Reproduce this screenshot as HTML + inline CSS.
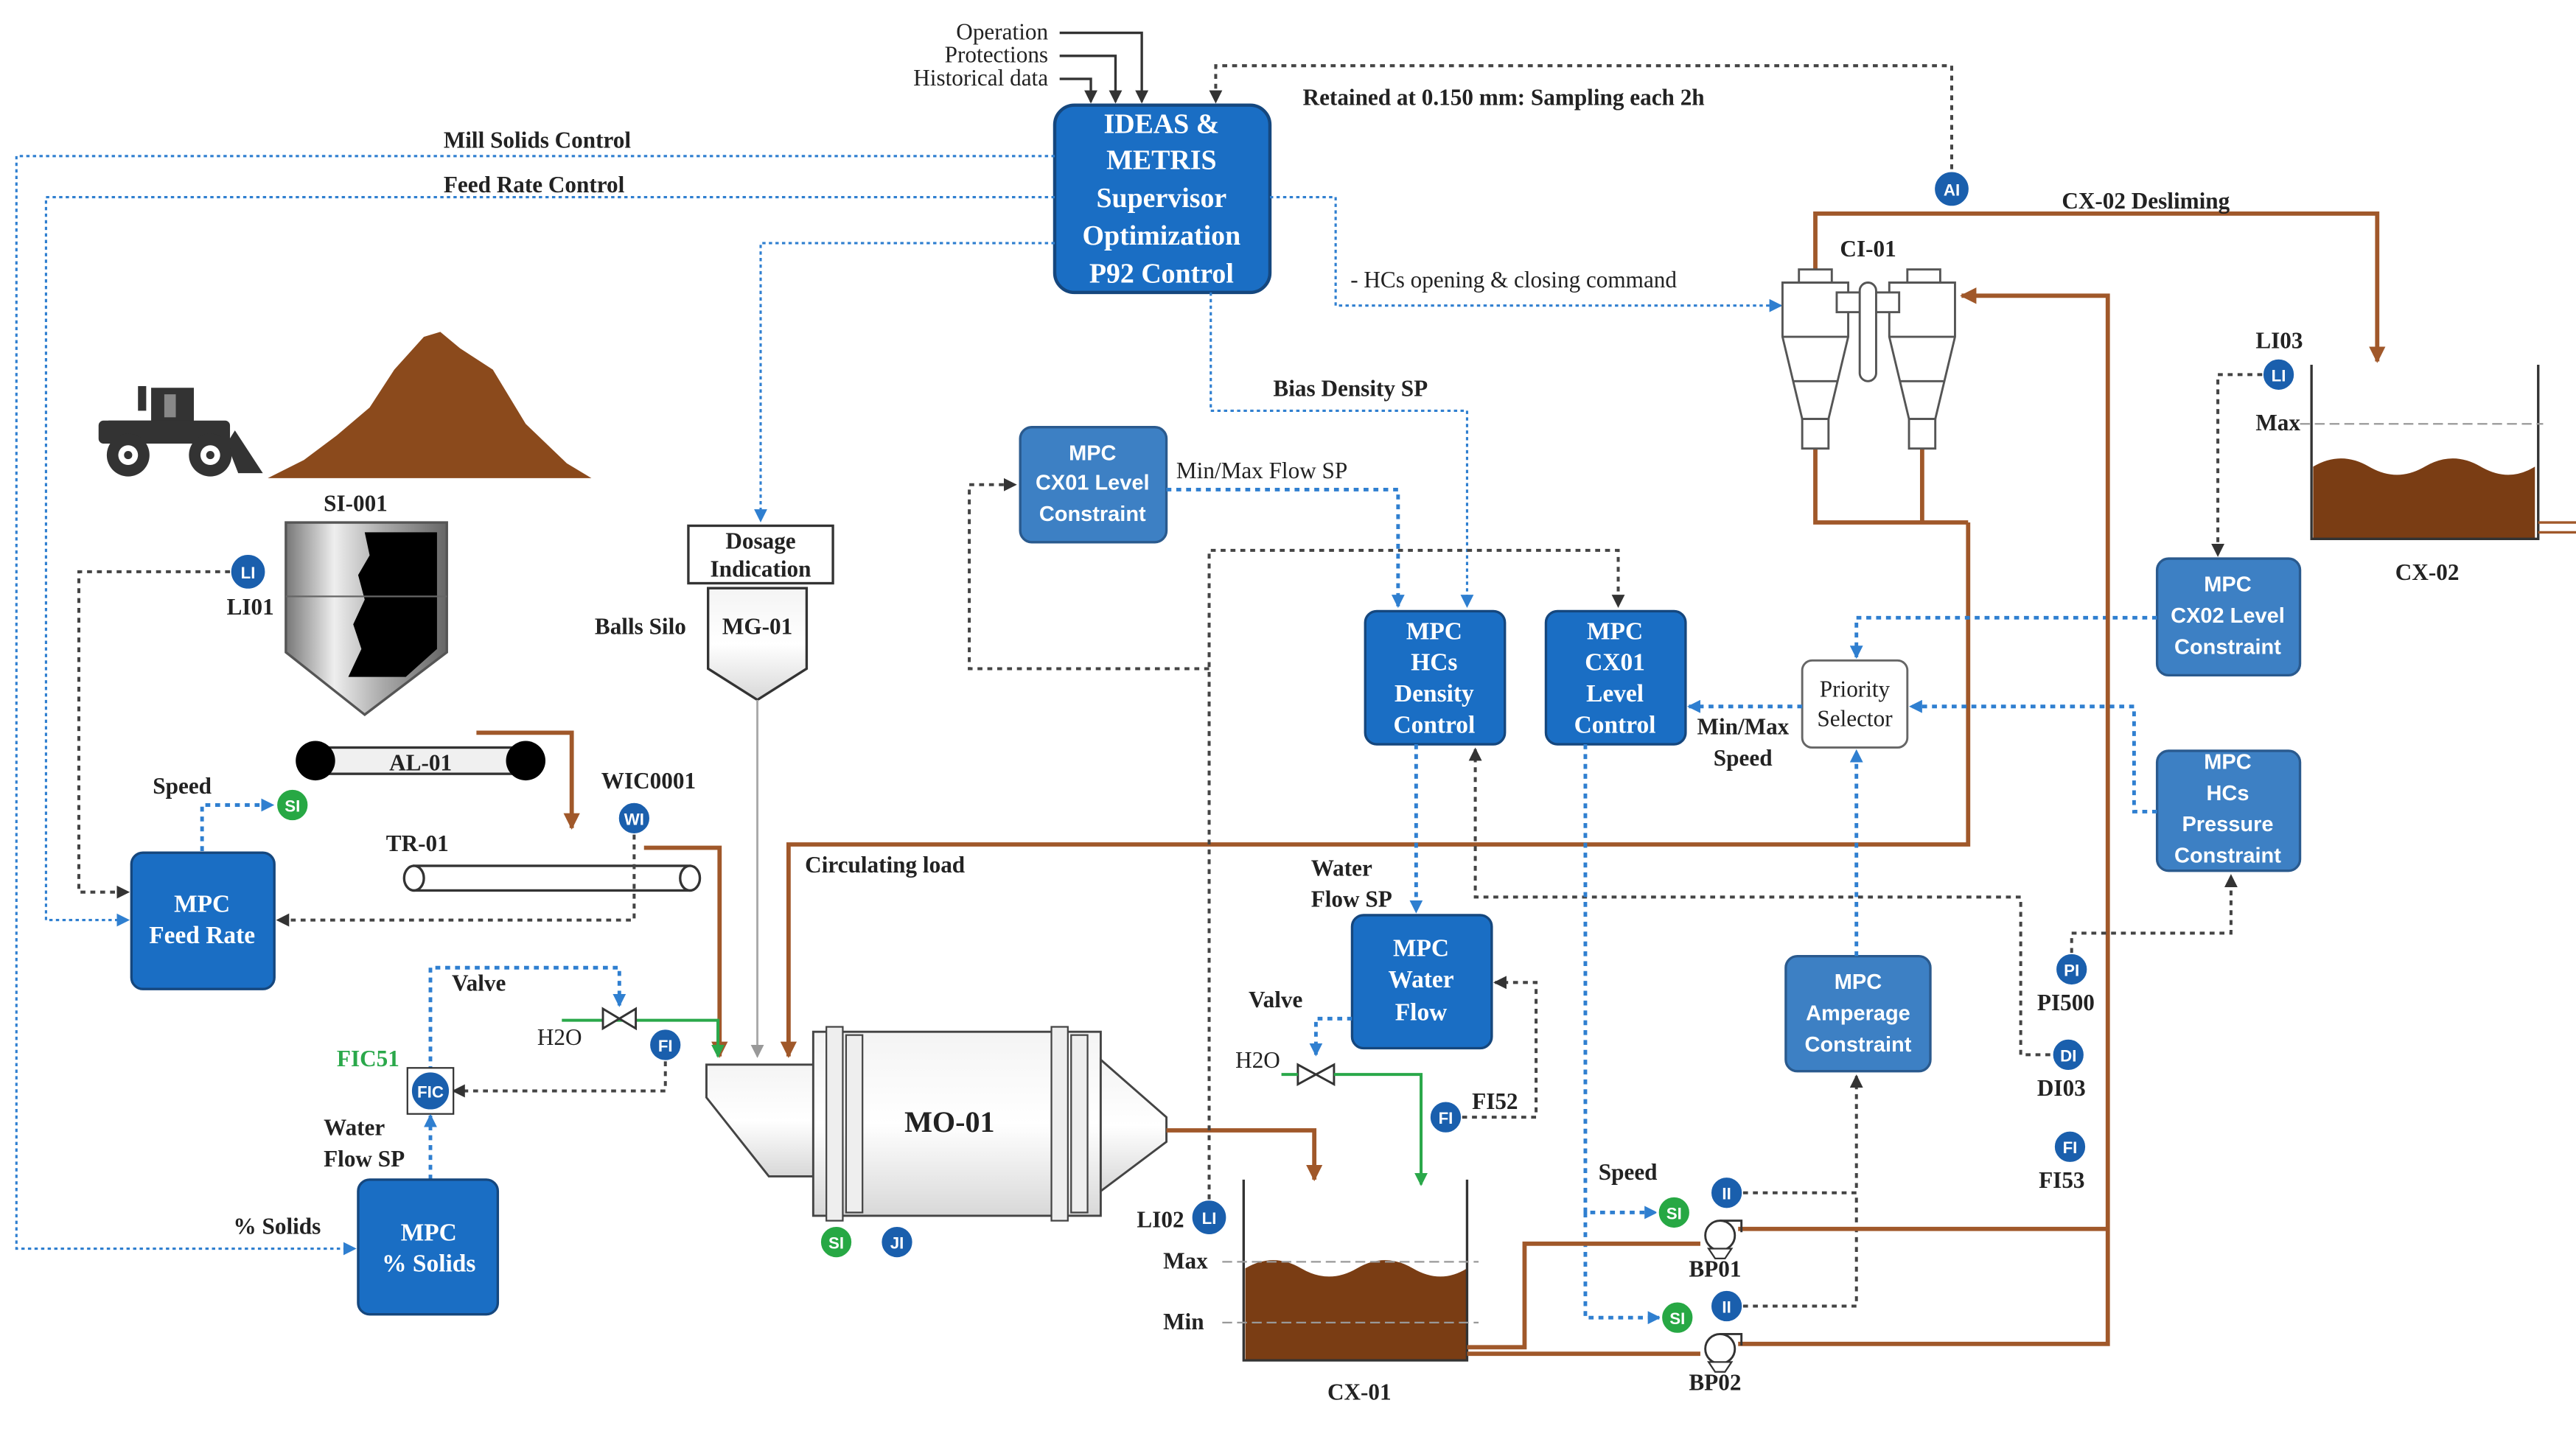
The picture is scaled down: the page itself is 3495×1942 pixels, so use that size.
<!DOCTYPE html>
<html><head><meta charset="utf-8"><style>
html,body{margin:0;padding:0;background:#fff}
svg{display:block}
.l{font-family:"Liberation Serif",serif;font-weight:bold;font-size:14px;fill:#222}
.bt{font-family:"Liberation Serif",serif;font-weight:bold;font-size:15px;fill:#fff;text-anchor:middle}
.st{font-family:"Liberation Sans",sans-serif;font-weight:bold;font-size:13px;fill:#fff;text-anchor:middle}
.it{font-family:"Liberation Sans",sans-serif;font-weight:bold;font-size:10px;fill:#fff;text-anchor:middle}
.bd{fill:none;stroke:#2f7fd0;stroke-width:1.4;stroke-dasharray:2 2}
.bd2{fill:none;stroke:#2f7fd0;stroke-width:2.2;stroke-dasharray:3 3}
.kd{fill:none;stroke:#444;stroke-width:1.8;stroke-dasharray:3 3}
.br{fill:none;stroke:#a0582a;stroke-width:2.6}
.gr{fill:none;stroke:#2aa84a;stroke-width:1.8}
</style></head><body>
<svg width="3495" height="1942" viewBox="0 0 1568 871" preserveAspectRatio="none" xmlns="http://www.w3.org/2000/svg">
<defs>
<marker id="ak" markerWidth="8" markerHeight="8" refX="7" refY="4" orient="auto" markerUnits="userSpaceOnUse"><path d="M0,0 L8,4 L0,8z" fill="#333"/></marker>
<marker id="ab" markerWidth="8" markerHeight="8" refX="7" refY="4" orient="auto" markerUnits="userSpaceOnUse"><path d="M0,0 L8,4 L0,8z" fill="#2f7fd0"/></marker>
<marker id="ar" markerWidth="10" markerHeight="10" refX="9" refY="5" orient="auto" markerUnits="userSpaceOnUse"><path d="M0,0 L10,5 L0,10z" fill="#a0582a"/></marker>
<marker id="ag" markerWidth="8" markerHeight="8" refX="7" refY="4" orient="auto" markerUnits="userSpaceOnUse"><path d="M0,0 L8,4 L0,8z" fill="#2aa84a"/></marker>
<marker id="ay" markerWidth="8" markerHeight="8" refX="7" refY="4" orient="auto" markerUnits="userSpaceOnUse"><path d="M0,0 L8,4 L0,8z" fill="#999"/></marker>
<linearGradient id="sg" x1="0" x2="1"><stop offset="0" stop-color="#777"/><stop offset=".3" stop-color="#eee"/><stop offset=".6" stop-color="#aaa"/><stop offset="1" stop-color="#666"/></linearGradient>
<linearGradient id="mg" x1="0" y1="0" x2="0" y2="1"><stop offset="0" stop-color="#f4f4f4"/><stop offset=".5" stop-color="#fff"/><stop offset="1" stop-color="#d8d8d8"/></linearGradient>
</defs>

<!-- top inputs -->
<text class="l" x="638" y="24" text-anchor="end" style="font-weight:normal">Operation</text>
<text class="l" x="638" y="38" text-anchor="end" style="font-weight:normal">Protections</text>
<text class="l" x="638" y="52" text-anchor="end" style="font-weight:normal">Historical data</text>
<path d="M645,20 H695 V62" fill="none" stroke="#333" stroke-width="1.5" marker-end="url(#ak)"/>
<path d="M645,34 H679 V62" fill="none" stroke="#333" stroke-width="1.5" marker-end="url(#ak)"/>
<path d="M645,48 H664 V62" fill="none" stroke="#333" stroke-width="1.5" marker-end="url(#ak)"/>
<path class="kd" d="M1188,103 V40 H740 V62" marker-end="url(#ak)"/>
<text class="l" x="793" y="64">Retained at 0.150 mm: Sampling each 2h</text>

<!-- IDEAS box -->
<rect x="642" y="64" width="131" height="114" rx="12" fill="#1a6ec4" stroke="#15477e" stroke-width="2"/>
<text class="bt" x="707" y="81" style="font-size:17px">IDEAS &amp;</text>
<text class="bt" x="707" y="103" style="font-size:17px">METRIS</text>
<text class="bt" x="707" y="126" style="font-size:17px">Supervisor</text>
<text class="bt" x="707" y="149" style="font-size:17px">Optimization</text>
<text class="bt" x="707" y="172" style="font-size:17px">P92 Control</text>

<!-- supervisor lines -->
<text class="l" x="270" y="90">Mill Solids Control</text>
<path class="bd" d="M642,95 H10 V760 H216" marker-end="url(#ab)"/>
<text class="l" x="270" y="117">Feed Rate Control</text>
<path class="bd" d="M642,120 H28 V560 H78" marker-end="url(#ab)"/>
<path class="bd" d="M773,120 H813 V186 H1084" marker-end="url(#ab)"/>
<text class="l" x="822" y="175" style="font-weight:normal">- HCs opening &amp; closing command</text>
<path class="bd" d="M737,178 V250 H893 V369" marker-end="url(#ab)"/>
<text class="l" x="775" y="241">Bias Density SP</text>
<path class="bd" d="M642,148 H463 V317" marker-end="url(#ab)"/>

<!-- loader & pile -->
<path d="M163,291 L185,280 L205,265 L225,248 L240,225 L258,205 L268,202 L280,212 L300,225 L320,258 L345,282 L360,291 Z" fill="#8b4a1c"/>
<g fill="#333">
<rect x="84" y="235" width="5" height="15"/>
<path d="M92,236 H118 V257 H128 V264 H66 V256 H92Z"/>
<rect x="60" y="256" width="80" height="14" rx="3"/>
<path d="M143,262 L160,288 L145,288 L138,270Z"/>
</g>
<rect x="100" y="240" width="7" height="14" fill="#888"/>
<circle cx="78" cy="277" r="13" fill="#333"/><circle cx="78" cy="277" r="6" fill="#fff"/><circle cx="78" cy="277" r="2.5" fill="#333"/>
<circle cx="128" cy="277" r="13" fill="#333"/><circle cx="128" cy="277" r="6" fill="#fff"/><circle cx="128" cy="277" r="2.5" fill="#333"/>

<!-- silo -->
<text class="l" x="197" y="311">SI-001</text>
<path d="M174,318 H272 V397 L222,435 L174,397Z" fill="url(#sg)" stroke="#555" stroke-width="1.5"/>
<path d="M222,324 H266 V395 L247,412 L212,412 L220,395 L215,380 L222,365 L218,350 L225,338Z" fill="#000"/>
<line x1="174" y1="363" x2="272" y2="363" stroke="#666"/>
<circle cx="151" cy="348" r="11" fill="#1a5fad" stroke="#fff" stroke-width="1.5"/><text class="it" x="151" y="352">LI</text>
<text class="l" x="138" y="374">LI01</text>
<path class="kd" d="M140,348 H48 V543 H78" marker-end="url(#ak)"/>

<!-- AL-01 -->
<rect x="190" y="455" width="135" height="16" fill="#f0f0f0" stroke="#333" stroke-width="1.5"/>
<circle cx="192" cy="463" r="12" fill="#000"/><circle cx="320" cy="463" r="12" fill="#000"/>
<text class="l" x="256" y="469" text-anchor="middle">AL-01</text>
<path class="br" d="M290,446 H348 V504" marker-end="url(#ar)"/>
<text class="l" x="93" y="483">Speed</text>
<circle cx="178" cy="490" r="10" fill="#27a844" stroke="#fff" stroke-width="1.5"/><text class="it" x="178" y="494">SI</text>
<path class="bd2" d="M123,518 V490 H166" marker-end="url(#ab)"/>

<!-- TR-01 -->
<text class="l" x="235" y="518">TR-01</text>
<rect x="252" y="527" width="168" height="15" fill="#fff" stroke="#333" stroke-width="1.5"/>
<ellipse cx="252" cy="534.5" rx="6" ry="7.5" fill="#fff" stroke="#333" stroke-width="1.5"/>
<ellipse cx="420" cy="534.5" rx="6" ry="7.5" fill="#fff" stroke="#333" stroke-width="1.5"/>
<text class="l" x="366" y="480">WIC0001</text>
<circle cx="386" cy="498" r="10" fill="#1a5fad" stroke="#fff" stroke-width="1.5"/><text class="it" x="386" y="502">WI</text>
<path class="kd" d="M386,508 V560 H169" marker-end="url(#ak)"/>

<!-- MPC Feed Rate -->
<rect x="80" y="519" width="87" height="83" rx="7" fill="#1a6ec4" stroke="#15477e" stroke-width="1.5"/>
<text class="bt" x="123" y="555">MPC</text><text class="bt" x="123" y="574">Feed Rate</text>

<!-- feed lines -->
<path class="br" d="M392,516 H438 V643" marker-end="url(#ar)"/>
<path class="br" d="M1198,318 V514 H480 V643" marker-end="url(#ar)"/>
<text class="l" x="490" y="531">Circulating load</text>

<!-- water to mill -->
<text class="l" x="275" y="603">Valve</text>
<text class="l" x="327" y="636" style="font-weight:normal">H2O</text>
<path class="gr" d="M342,621 H437 V643" marker-end="url(#ag)"/>
<path d="M367,614 L387,626 L387,614 L367,626Z" fill="#fff" stroke="#333" stroke-width="1.3"/>
<path class="bd2" d="M262,652 V589 H377 V612" marker-end="url(#ab)"/>
<circle cx="405" cy="636" r="10" fill="#1a5fad" stroke="#fff" stroke-width="1.5"/><text class="it" x="405" y="640">FI</text>
<path class="kd" d="M405,646 V664 H276" marker-end="url(#ak)"/>
<rect x="248" y="650" width="28" height="28" fill="#fff" stroke="#333"/>
<circle cx="262" cy="664" r="12" fill="#1a5fad" stroke="#fff" stroke-width="1.5"/><text class="it" x="262" y="668">FIC</text>
<text class="l" x="205" y="649" style="fill:#2aa84a">FIC51</text>
<text class="l" x="197" y="691">Water</text><text class="l" x="197" y="710">Flow SP</text>
<path class="bd2" d="M262,718 V679" marker-end="url(#ab)"/>
<text class="l" x="142" y="751">% Solids</text>
<rect x="218" y="718" width="85" height="82" rx="7" fill="#1a6ec4" stroke="#15477e" stroke-width="1.5"/>
<text class="bt" x="261" y="755">MPC</text><text class="bt" x="261" y="774">% Solids</text>

<!-- Dosage / MG-01 -->
<rect x="419" y="320" width="88" height="35" fill="#fff" stroke="#333" stroke-width="1.5"/>
<text class="l" x="463" y="334" text-anchor="middle">Dosage</text><text class="l" x="463" y="351" text-anchor="middle">Indication</text>
<text class="l" x="362" y="386">Balls Silo</text>
<path d="M431,358 H491 V407 L461,426 L431,407Z" fill="url(#mg)" stroke="#333" stroke-width="1.5"/>
<text class="l" x="461" y="386" text-anchor="middle">MG-01</text>
<path d="M461,426 V643" stroke="#aaa" stroke-width="1.3" fill="none" marker-end="url(#ay)"/>

<!-- mill -->
<path d="M430,648 H500 V716 H468 L430,668Z" fill="url(#mg)" stroke="#444" stroke-width="1.3"/>
<rect x="495" y="628" width="175" height="112" fill="url(#mg)" stroke="#444" stroke-width="1.3"/>
<rect x="503" y="625" width="10" height="118" fill="#eee" stroke="#444"/>
<rect x="515" y="630" width="10" height="108" fill="#eee" stroke="#444"/>
<rect x="640" y="625" width="10" height="118" fill="#eee" stroke="#444"/>
<rect x="652" y="630" width="10" height="108" fill="#eee" stroke="#444"/>
<path d="M670,645 L710,680 L710,695 L670,725Z" fill="url(#mg)" stroke="#444" stroke-width="1.3"/>
<text class="l" x="578" y="689" text-anchor="middle" style="font-size:18px">MO-01</text>
<circle cx="509" cy="756" r="10" fill="#27a844" stroke="#fff" stroke-width="1.5"/><text class="it" x="509" y="760">SI</text>
<circle cx="546" cy="756" r="10" fill="#1a5fad" stroke="#fff" stroke-width="1.5"/><text class="it" x="546" y="760">JI</text>
<path class="br" d="M710,688 H800 V718" marker-end="url(#ar)"/>

<!-- CX-01 -->
<path d="M758,772 Q775,762 792,772 T826,772 T860,772 T893,772 V828 H758Z" fill="#7a3d14"/>
<path d="M757,718 V828 H893 V718" fill="none" stroke="#333" stroke-width="1.5"/>
<line x1="744" y1="768" x2="900" y2="768" stroke="#999" stroke-dasharray="6 3"/>
<line x1="744" y1="805" x2="900" y2="805" stroke="#999" stroke-dasharray="6 3"/>
<text class="l" x="708" y="772">Max</text><text class="l" x="708" y="809">Min</text>
<text class="l" x="808" y="852">CX-01</text>
<text class="l" x="692" y="747">LI02</text>
<circle cx="736" cy="741" r="11" fill="#1a5fad" stroke="#fff" stroke-width="1.5"/><text class="it" x="736" y="745">LI</text>
<path class="kd" d="M736,730 V335 H985 V369" marker-end="url(#ak)"/>
<path class="kd" d="M736,407 H590 V295 H618" marker-end="url(#ak)"/>

<!-- CX01 Level Constraint -->
<rect x="621" y="260" width="89" height="70" rx="7" fill="#3d80c4" stroke="#2a5a8e" stroke-width="1.5"/>
<text class="st" x="665" y="280">MPC</text><text class="st" x="665" y="298">CX01 Level</text><text class="st" x="665" y="317">Constraint</text>
<text class="l" x="716" y="291" style="font-weight:normal">Min/Max Flow SP</text>
<path class="bd2" d="M710,298 H851 V369" marker-end="url(#ab)"/>

<!-- HCs Density / CX01 Level Control -->
<rect x="831" y="372" width="85" height="81" rx="7" fill="#1a6ec4" stroke="#15477e" stroke-width="1.5"/>
<text class="bt" x="873" y="389">MPC</text><text class="bt" x="873" y="408">HCs</text><text class="bt" x="873" y="427">Density</text><text class="bt" x="873" y="446">Control</text>
<rect x="941" y="372" width="85" height="81" rx="7" fill="#1a6ec4" stroke="#15477e" stroke-width="1.5"/>
<text class="bt" x="983" y="389">MPC</text><text class="bt" x="983" y="408">CX01</text><text class="bt" x="983" y="427">Level</text><text class="bt" x="983" y="446">Control</text>

<!-- Priority selector -->
<rect x="1097" y="402" width="64" height="53" rx="6" fill="#fff" stroke="#666" stroke-width="1.3"/>
<text class="l" x="1129" y="424" text-anchor="middle" style="font-weight:normal">Priority</text>
<text class="l" x="1129" y="442" text-anchor="middle" style="font-weight:normal">Selector</text>
<path class="bd2" d="M1097,430 H1028" marker-end="url(#ab)"/>
<text class="l" x="1033" y="447">Min/Max</text><text class="l" x="1043" y="466">Speed</text>

<!-- CX02 level constraint / pressure -->
<rect x="1313" y="340" width="87" height="71" rx="7" fill="#3d80c4" stroke="#2a5a8e" stroke-width="1.5"/>
<text class="st" x="1356" y="360">MPC</text><text class="st" x="1356" y="379">CX02 Level</text><text class="st" x="1356" y="398">Constraint</text>
<path class="bd2" d="M1313,376 H1130 V400" marker-end="url(#ab)"/>
<rect x="1313" y="457" width="87" height="73" rx="7" fill="#3d80c4" stroke="#2a5a8e" stroke-width="1.5"/>
<text class="st" x="1356" y="468">MPC</text><text class="st" x="1356" y="487">HCs</text><text class="st" x="1356" y="506">Pressure</text><text class="st" x="1356" y="525">Constraint</text>
<path class="bd2" d="M1313,494 H1299 V430 H1163" marker-end="url(#ab)"/>
<rect x="1087" y="582" width="88" height="70" rx="7" fill="#3d80c4" stroke="#2a5a8e" stroke-width="1.5"/>
<text class="st" x="1131" y="602">MPC</text><text class="st" x="1131" y="621">Amperage</text><text class="st" x="1131" y="640">Constraint</text>
<path class="bd2" d="M1130,582 V457" marker-end="url(#ab)"/>

<!-- water flow -->
<path class="bd2" d="M862,453 V555" marker-end="url(#ab)"/>
<text class="l" x="798" y="533">Water</text><text class="l" x="798" y="552">Flow SP</text>
<path class="kd" d="M1248,642 H1230 V546 H898 V456" marker-end="url(#ak)"/>
<rect x="823" y="557" width="85" height="81" rx="7" fill="#1a6ec4" stroke="#15477e" stroke-width="1.5"/>
<text class="bt" x="865" y="582">MPC</text><text class="bt" x="865" y="601">Water</text><text class="bt" x="865" y="621">Flow</text>
<text class="l" x="760" y="613">Valve</text>
<text class="l" x="752" y="650" style="font-weight:normal">H2O</text>
<path class="bd2" d="M823,620 H801 V642" marker-end="url(#ab)"/>
<path d="M790,648 L812,660 L812,648 L790,660Z" fill="#fff" stroke="#333" stroke-width="1.3"/>
<path class="gr" d="M780,654 H790 M812,654 H865 V721" marker-end="url(#ag)"/>
<circle cx="880" cy="680" r="10" fill="#1a5fad" stroke="#fff" stroke-width="1.5"/><text class="it" x="880" y="684">FI</text>
<text class="l" x="896" y="675">FI52</text>
<path class="kd" d="M890,680 H935 V598 H910" marker-end="url(#ak)"/>

<!-- pumps control -->
<path class="bd2" d="M965,453 V738 H1008" marker-end="url(#ab)"/>
<path class="bd2" d="M965,738 V802 H1010" marker-end="url(#ab)"/>
<text class="l" x="973" y="718">Speed</text>
<circle cx="1019" cy="738" r="10" fill="#27a844" stroke="#fff" stroke-width="1.5"/><text class="it" x="1019" y="742">SI</text>
<circle cx="1021" cy="802" r="10" fill="#27a844" stroke="#fff" stroke-width="1.5"/><text class="it" x="1021" y="806">SI</text>
<circle cx="1051" cy="726" r="10" fill="#1a5fad" stroke="#fff" stroke-width="1.5"/><text class="it" x="1051" y="730">II</text>
<circle cx="1051" cy="795" r="10" fill="#1a5fad" stroke="#fff" stroke-width="1.5"/><text class="it" x="1051" y="799">II</text>
<path class="kd" d="M1061,726 H1130 V655" marker-end="url(#ak)"/>
<path class="kd" d="M1061,795 H1130 V726"/>

<!-- slurry pipes -->
<path class="br" d="M893,820 H928 V757 H1035"/>
<path class="br" d="M893,824 H1035"/>
<path class="br" d="M1058,748 H1283 M1058,818 H1283 V180 H1194" marker-end="url(#ar)"/>
<circle cx="1047" cy="752" r="9" fill="#fff" stroke="#333" stroke-width="1.3"/>
<path d="M1047,743 H1060 V750" fill="none" stroke="#333" stroke-width="1.3"/>
<path d="M1040,760 L1054,760 L1050,766 L1044,766Z" fill="#fff" stroke="#333"/>
<circle cx="1047" cy="821" r="9" fill="#fff" stroke="#333" stroke-width="1.3"/>
<path d="M1047,812 H1060 V819" fill="none" stroke="#333" stroke-width="1.3"/>
<path d="M1040,829 L1054,829 L1050,835 L1044,835Z" fill="#fff" stroke="#333"/>
<text class="l" x="1028" y="777">BP01</text>
<text class="l" x="1028" y="846">BP02</text>

<!-- instruments right -->
<circle cx="1261" cy="590" r="10" fill="#1a5fad" stroke="#fff" stroke-width="1.5"/><text class="it" x="1261" y="594">PI</text>
<text class="l" x="1240" y="615">PI500</text>
<path class="kd" d="M1261,580 V568 H1358 V533" marker-end="url(#ak)"/>
<circle cx="1259" cy="642" r="10" fill="#1a5fad" stroke="#fff" stroke-width="1.5"/><text class="it" x="1259" y="646">DI</text>
<text class="l" x="1240" y="667">DI03</text>
<circle cx="1260" cy="698" r="10" fill="#1a5fad" stroke="#fff" stroke-width="1.5"/><text class="it" x="1260" y="702">FI</text>
<text class="l" x="1241" y="723">FI53</text>

<!-- cyclones -->
<path class="br" d="M1105,270 V318 H1198 M1170,270 V318"/>
<path class="br" d="M1105,166 V130 H1447 V220" marker-end="url(#ar)"/>
<text class="l" x="1255" y="127">CX-02 Desliming</text>
<circle cx="1188" cy="115" r="11" fill="#1a5fad" stroke="#fff" stroke-width="1.5"/><text class="it" x="1188" y="119">AI</text>
<text class="l" x="1120" y="156">CI-01</text>
<g fill="#fff" stroke="#555" stroke-width="1.3">
<rect x="1095" y="164" width="20" height="8"/><rect x="1161" y="164" width="20" height="8"/>
<path d="M1085,172 H1125 V205 L1113,255 H1097 L1085,205Z"/>
<path d="M1150,172 H1190 V205 L1178,255 H1162 L1150,205Z"/>
<rect x="1097" y="255" width="16" height="18"/><rect x="1162" y="255" width="16" height="18"/>
<rect x="1118" y="178" width="38" height="12"/>
<rect x="1132" y="172" width="10" height="60" rx="5"/>
<line x1="1085" y1="205" x2="1125" y2="205"/><line x1="1150" y1="205" x2="1190" y2="205"/>
<line x1="1092" y1="232" x2="1118" y2="232"/><line x1="1157" y1="232" x2="1183" y2="232"/>
</g>

<!-- CX-02 -->
<path d="M1408,284 Q1425,274 1442,284 T1476,284 T1510,284 T1543,284 V328 H1408Z" fill="#7a3d14"/>
<path d="M1407,222 V328 H1545 V222" fill="none" stroke="#333" stroke-width="1.5"/>
<line x1="1400" y1="258" x2="1548" y2="258" stroke="#999" stroke-dasharray="6 3"/>
<path d="M1545,318 H1568 M1545,324 H1568" stroke="#a0582a" stroke-width="1.5"/>
<text class="l" x="1373" y="262">Max</text>
<text class="l" x="1458" y="353">CX-02</text>
<text class="l" x="1373" y="212">LI03</text>
<circle cx="1387" cy="228" r="10" fill="#1a5fad" stroke="#fff" stroke-width="1.5"/><text class="it" x="1387" y="232">LI</text>
<path class="kd" d="M1377,228 H1350 V338" marker-end="url(#ak)"/>
</svg>
</body></html>
